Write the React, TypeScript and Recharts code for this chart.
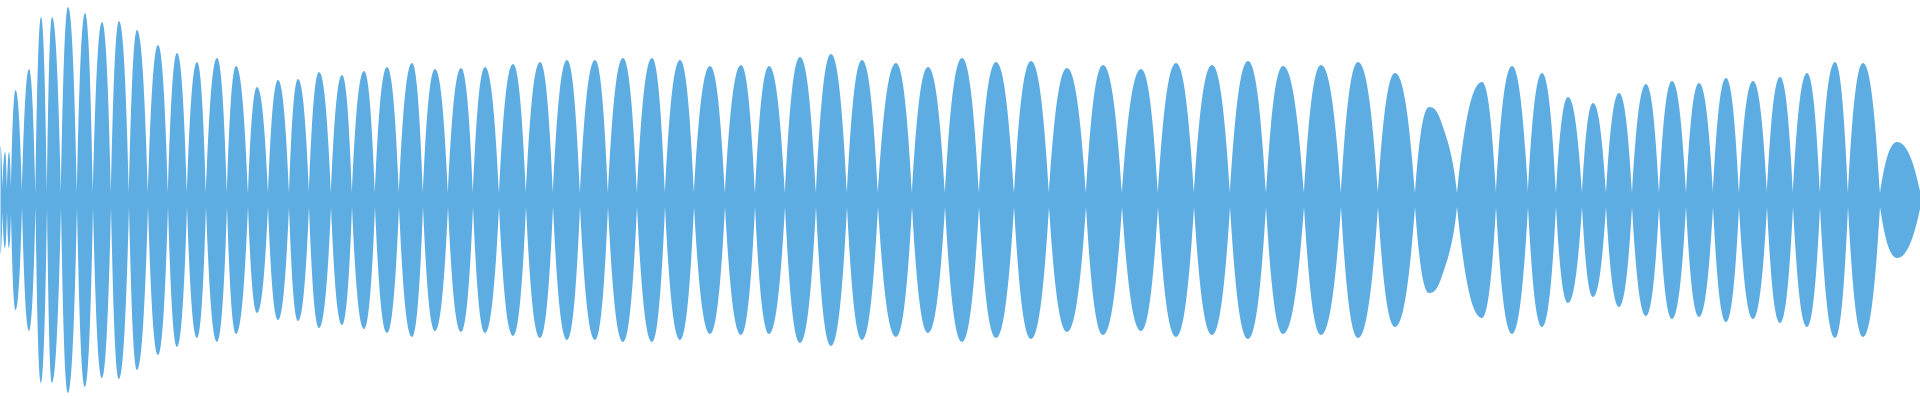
import { AreaChart, Area, XAxis, YAxis } from 'recharts';

const CHART_W = 1920;
const CHART_H = 400;
const MID_Y = CHART_H / 2;

// key points of the waveform envelope: position along the track and half-amplitude
const envelopeX = [
  0.5, 2.5, 5, 7, 9, 11, 15.5, 22, 29, 35.5, 41, 47, 52, 61, 68, 77, 85, 93, 102, 111,
  119, 129, 137, 148, 158, 168, 177, 187, 197, 206, 217, 227, 236, 248, 257, 268, 278, 289, 298, 309,
  319, 331, 342, 352, 364, 375, 387, 399, 412, 423, 435, 448, 461, 473, 485, 499, 513, 526, 540, 553,
  567, 580, 595, 608, 623, 637, 652, 665, 680, 694, 710, 725, 741, 755, 769, 785, 800, 816, 831, 847,
  862, 878, 896, 912, 928, 945, 962, 979, 996, 1014, 1031, 1049, 1067, 1086, 1103, 1122, 1141, 1158, 1176, 1194,
  1212, 1230, 1248, 1266, 1283, 1304, 1321, 1341, 1358, 1378, 1395, 1415, 1429, 1442, 1457, 1482, 1496, 1512, 1528, 1542,
  1556, 1568, 1582, 1593, 1606, 1619, 1632, 1646, 1659, 1672, 1686, 1699, 1713, 1726, 1739, 1753, 1767, 1780, 1793, 1807,
  1820, 1835, 1848, 1863, 1880, 1897, 1920,
];

const envelopeAmp = [
  54, 12, 48, 12, 48, 14, 110, 7, 131, 7, 183, 7, 183, 7, 193, 7, 187, 7, 178, 7,
  179, 7, 170, 7, 155, 7, 147, 7, 138, 7, 142, 7, 134, 7, 113, 7, 120, 7, 121, 7,
  128, 7, 125, 7, 129, 7, 133, 7, 137, 7, 131, 7, 132, 7, 133, 7, 136, 7, 138, 7,
  140, 7, 140, 7, 142, 7, 142, 7, 140, 7, 134, 7, 135, 7, 134, 7, 143, 7, 146, 7,
  140, 7, 137, 7, 133, 7, 142, 7, 138, 7, 139, 7, 132, 7, 135, 7, 131, 7, 137, 7,
  135, 7, 139, 7, 134, 7, 135, 7, 138, 7, 127, 7, 93, 76, 7, 118, 7, 134, 7, 127,
  7, 103, 7, 97, 7, 107, 7, 116, 7, 119, 7, 117, 7, 122, 7, 119, 7, 123, 7, 127,
  7, 138, 7, 137, 7, 58, 9,
];

const data = envelopeX.map((x, i) => ({ x, range: [-envelopeAmp[i], envelopeAmp[i]] }));

// curve: rounded at the crests, pointed where the lobes pinch together
function lobeCurve(context: any) {
  let xs: number[] = [];
  let ys: number[] = [];
  let line = NaN;
  return {
    areaStart() { line = 0; },
    areaEnd() { line = NaN; },
    lineStart() { xs = []; ys = []; },
    point(x: number, y: number) { xs.push(+x); ys.push(+y); },
    lineEnd() {
      const n = xs.length;
      if (n > 0) {
        const dist = ys.map((y) => Math.abs(y - MID_Y));
        const kind: string[] = [];
        const slope: number[] = [];
        for (let i = 0; i < n; i++) {
          const geL = i === 0 || dist[i] >= dist[i - 1];
          const geR = i === n - 1 || dist[i] >= dist[i + 1];
          const leL = i === 0 || dist[i] <= dist[i - 1];
          const leR = i === n - 1 || dist[i] <= dist[i + 1];
          kind[i] = geL && geR ? 'peak' : leL && leR ? 'valley' : 'mid';
          if (kind[i] === 'mid') {
            const cl = (ys[i] - ys[i - 1]) / (xs[i] - xs[i - 1]);
            const cr = (ys[i + 1] - ys[i]) / (xs[i + 1] - xs[i]);
            slope[i] = (cl + cr) / 2;
          } else {
            slope[i] = 0;
          }
        }
        // control handle of point i on a segment of width h and rise dy (dir +1 leaving, -1 arriving)
        const handle = (i: number, h: number, dy: number, dir: number) => {
          if (kind[i] === 'peak') return [dir * 0.45 * h, 0];
          if (kind[i] === 'valley') return [dir * 0.25 * h, dir * 0.55 * dy];
          return [(dir * h) / 3, (dir * slope[i] * h) / 3];
        };
        if (line) context.lineTo(xs[0], ys[0]);
        else context.moveTo(xs[0], ys[0]);
        for (let i = 0; i < n - 1; i++) {
          const h = xs[i + 1] - xs[i];
          const dy = ys[i + 1] - ys[i];
          const a = handle(i, h, dy, 1);
          const b = handle(i + 1, h, dy, -1);
          context.bezierCurveTo(
            xs[i] + a[0], ys[i] + a[1],
            xs[i + 1] + b[0], ys[i + 1] + b[1],
            xs[i + 1], ys[i + 1],
          );
        }
      }
      if (line || (line !== 0 && n === 1)) context.closePath();
      line = 1 - line;
    },
  };
}

export default function App() {
  return (
    <div style={{ position: 'fixed', top: 0, left: 0, width: CHART_W, height: CHART_H, background: '#fff' }}>
      <AreaChart width={CHART_W} height={CHART_H} data={data} margin={{ top: 0, right: 0, bottom: 0, left: 0 }}>
        <XAxis type="number" dataKey="x" domain={[0, CHART_W]} hide allowDataOverflow />
        <YAxis type="number" domain={[-200, 200]} hide allowDataOverflow />
        <Area
          dataKey="range"
          type={lobeCurve as any}
          fill="#5DADE2"
          fillOpacity={1}
          stroke="none"
          dot={false}
          activeDot={false}
          isAnimationActive={false}
        />
      </AreaChart>
    </div>
  );
}
